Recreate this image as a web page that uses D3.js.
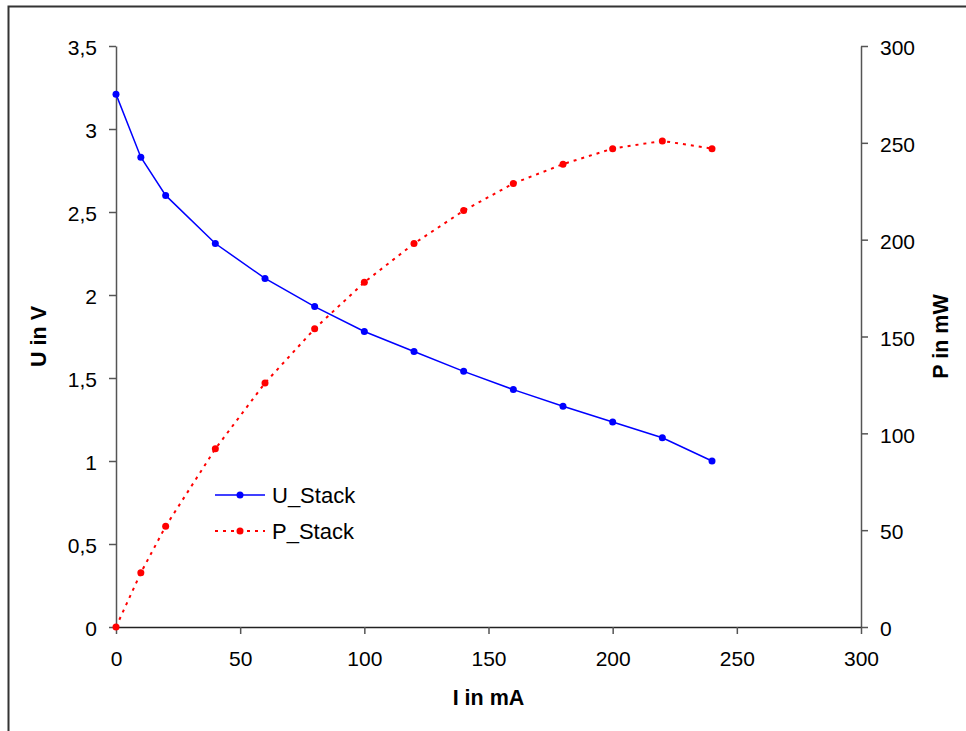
<!DOCTYPE html>
<html>
<head>
<meta charset="utf-8">
<script src="https://cdn.jsdelivr.net/npm/d3@7"></script>
<style>
  body { margin: 0; background: #fff; }
  svg text { font-family: "Liberation Sans", Arial, sans-serif; fill: #000; }
  .tick text { font-size: 21px; }
  .axis-title { font-size: 21.5px; font-weight: bold; }
  .legend text { font-size: 22px; }
</style>
</head>
<body>
<div id="chart"></div>
<script>
// --------- DATA ---------
const current = [0, 10, 20, 40, 60, 80, 100, 120, 140, 160, 180, 200, 220, 240];
const uStack = [3.21, 2.83, 2.60, 2.31, 2.10, 1.93, 1.78, 1.66, 1.54, 1.43, 1.33, 1.235, 1.14, 1.00];
const pStack = [0, 28, 52, 92, 126, 154, 178, 198, 215, 229, 239, 247, 251, 247];
const uTicks = [0, 0.5, 1, 1.5, 2, 2.5, 3, 3.5];
const pTicks = [0, 50, 100, 150, 200, 250, 300];
const iTicks = [0, 50, 100, 150, 200, 250, 300];

const fmtDe = d => String(d).replace('.', ',');

// --------- CHART ---------
let W = 966, H = 731;
let margin = {top: 46, right: 105, bottom: 104, left: 116},
    width = W - margin.left - margin.right,
    height = H - margin.top - margin.bottom;

let svg = d3.select("#chart").append("svg")
    .attr("width", W).attr("height", H);

// outer frame (runs off the page at right and bottom)
svg.append("rect")
    .attr("x", 8.5).attr("y", 6.5)
    .attr("width", 1000).attr("height", 1000)
    .attr("fill", "none").attr("stroke", "#333").attr("stroke-width", 2);

let graph = svg.append("g")
    .attr("transform", "translate(" + margin.left + "," + margin.top + ")");

let xScale = d3.scaleLinear().domain([0, 300]).range([0, width]);
let yLeft = d3.scaleLinear().domain([0, 3.5]).range([height, 0]);
let yRight = d3.scaleLinear().domain([0, 300]).range([height, 0]);

// Axes
let xAxis = d3.axisBottom(xScale).tickValues(iTicks)
    .tickSize(7).tickSizeOuter(0).tickPadding(17);
let lAxis = d3.axisLeft(yLeft).tickValues(uTicks).tickFormat(fmtDe)
    .tickSize(7).tickSizeOuter(0).tickPadding(12);
let rAxis = d3.axisRight(yRight).tickValues(pTicks)
    .tickSize(7).tickSizeOuter(0).tickPadding(12);

graph.append("g").attr("class", "axis")
    .call(lAxis);
graph.append("g").attr("class", "axis")
    .attr("transform", "translate(" + width + ",0)")
    .call(rAxis);
let xg = graph.append("g").attr("class", "axis")
    .attr("transform", "translate(0," + height + ")")
    .call(xAxis);

graph.selectAll(".axis path, .axis line")
    .attr("stroke", "#555").attr("stroke-width", 1.5);
graph.selectAll(".axis text").attr("fill", "#000");
graph.selectAll(".axis .tick text").attr("dy", function() {
    return d3.select(this.parentNode.parentNode).node() === xg.node() ? "0.71em" : "0.42em";
});
xg.select(".domain").attr("stroke", "#222");

// Titles
graph.append("text").attr("class", "axis-title")
    .attr("x", width / 2).attr("y", height + 78)
    .attr("text-anchor", "middle").text("I in mA");
graph.append("text").attr("class", "axis-title")
    .attr("transform", "translate(" + (-70) + "," + (height / 2) + ") rotate(-90)")
    .attr("text-anchor", "middle").text("U in V");
graph.append("text").attr("class", "axis-title")
    .attr("transform", "translate(" + (width + 87) + "," + (height / 2) + ") rotate(-90)")
    .attr("text-anchor", "middle").text("P in mW");

// Series
let uLine = d3.line()
    .x((d, i) => xScale(current[i]))
    .y(d => yLeft(d));
let pLine = d3.line()
    .x((d, i) => xScale(current[i]))
    .y(d => yRight(d));

graph.append("path")
    .attr("fill", "none").attr("stroke", "#ff0000")
    .attr("stroke-width", 2).attr("stroke-dasharray", "3,5")
    .attr("d", pLine(pStack));
graph.append("path")
    .attr("fill", "none").attr("stroke", "#0000ff")
    .attr("stroke-width", 1.5)
    .attr("d", uLine(uStack));

graph.selectAll(".pdot").data(pStack).enter().append("circle")
    .attr("cx", (d, i) => xScale(current[i])).attr("cy", d => yRight(d))
    .attr("r", 3.5).attr("fill", "#ff0000");
graph.selectAll(".udot").data(uStack).enter().append("circle")
    .attr("cx", (d, i) => xScale(current[i])).attr("cy", d => yLeft(d))
    .attr("r", 3.5).attr("fill", "#0000ff");

// Legend
let legend = svg.append("g").attr("class", "legend");
let items = [
    {name: "U_Stack", color: "#0000ff", dash: null, y: 495},
    {name: "P_Stack", color: "#ff0000", dash: "3,5", y: 531}
];
items.forEach(it => {
    legend.append("line")
        .attr("x1", 215).attr("x2", 265).attr("y1", it.y).attr("y2", it.y)
        .attr("stroke", it.color).attr("stroke-width", it.dash ? 2 : 1.5)
        .attr("stroke-dasharray", it.dash);
    legend.append("circle").attr("cx", 240).attr("cy", it.y).attr("r", 3.5).attr("fill", it.color);
    legend.append("text").attr("x", 272).attr("y", it.y + 8).text(it.name);
});
</script>
</body>
</html>
